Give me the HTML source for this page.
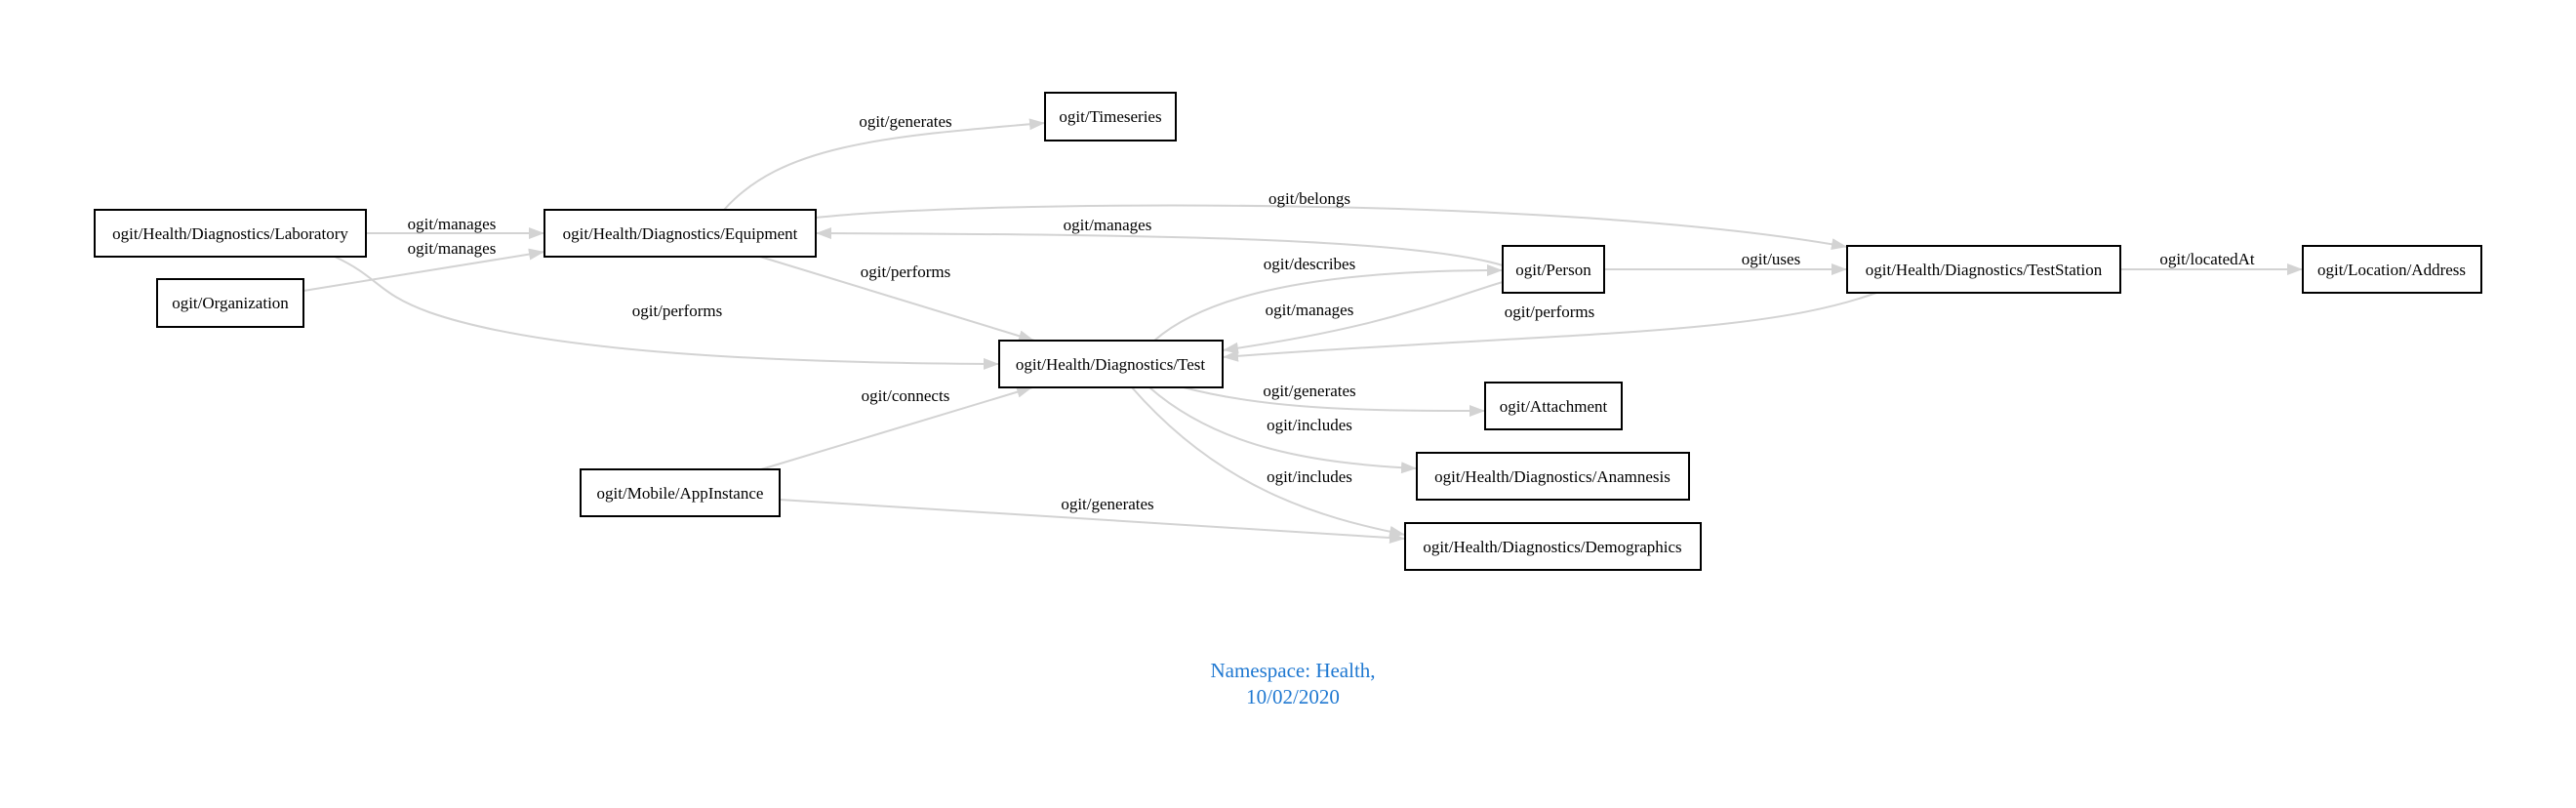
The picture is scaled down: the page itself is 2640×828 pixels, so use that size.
<!DOCTYPE html>
<html><head><meta charset="utf-8"><style>
html,body{margin:0;padding:0;background:#fff;}
svg{display:block;}
text{font-family:"Liberation Serif",serif;font-size:17px;fill:#000;}
.e{fill:none;stroke:#d3d3d3;stroke-width:2;}
.n{fill:#fff;stroke:#000;stroke-width:2;}
</style></head><body>
<svg width="2640" height="828" viewBox="0 0 2640 828" xmlns="http://www.w3.org/2000/svg">
<defs>
<marker id="a" viewBox="0 0 16 12" refX="16" refY="6" markerWidth="16" markerHeight="12" markerUnits="userSpaceOnUse" orient="auto">
<path d="M0,0 L16,6 L0,12 z" fill="#d3d3d3"/></marker>
</defs>
<path class="e" marker-end="url(#a)" d="M375,239 L558,239"/>
<path class="e" marker-end="url(#a)" d="M311,298 L558,258"/>
<path class="e" marker-end="url(#a)" d="M343,263 C390,285 385,300 440,320 C560,362 800,372 1024,373"/>
<path class="e" marker-end="url(#a)" d="M742,215 C800,150 900,140 1071,126"/>
<path class="e" marker-end="url(#a)" d="M779,263 L1060,349"/>
<path class="e" marker-end="url(#a)" d="M836,223 C1000,205 1600,200 1893,253"/>
<path class="e" marker-end="url(#a)" d="M1540,272 C1450,245 1200,240 836,239"/>
<path class="e" marker-end="url(#a)" d="M1183,349 C1250,290 1400,277 1540,277"/>
<path class="e" marker-end="url(#a)" d="M1540,289 C1470,310 1420,335 1253,359"/>
<path class="e" marker-end="url(#a)" d="M1923,300 C1800,345 1600,340 1253,366"/>
<path class="e" marker-end="url(#a)" d="M1644,276 L1893,276"/>
<path class="e" marker-end="url(#a)" d="M2173,276 L2360,276"/>
<path class="e" marker-end="url(#a)" d="M780,481 L1058,397"/>
<path class="e" marker-end="url(#a)" d="M799,512 L1440,552"/>
<path class="e" marker-end="url(#a)" d="M1213,397 C1300,420 1400,421 1522,421"/>
<path class="e" marker-end="url(#a)" d="M1178,397 C1250,460 1350,475 1452,480"/>
<path class="e" marker-end="url(#a)" d="M1160,397 C1250,500 1350,530 1440,548"/>
<g text-anchor="middle">
<text x="463" y="235">ogit/manages</text>
<text x="463" y="260">ogit/manages</text>
<text x="694" y="324">ogit/performs</text>
<text x="928" y="130">ogit/generates</text>
<text x="928" y="284">ogit/performs</text>
<text x="1342" y="209">ogit/belongs</text>
<text x="1135" y="236">ogit/manages</text>
<text x="1342" y="276">ogit/describes</text>
<text x="1342" y="323">ogit/manages</text>
<text x="1588" y="325">ogit/performs</text>
<text x="1815" y="271">ogit/uses</text>
<text x="2262" y="271">ogit/locatedAt</text>
<text x="928" y="411">ogit/connects</text>
<text x="1135" y="522">ogit/generates</text>
<text x="1342" y="406">ogit/generates</text>
<text x="1342" y="441">ogit/includes</text>
<text x="1342" y="494">ogit/includes</text>
</g>
<g>
<rect class="n" x="97" y="215" width="278" height="48"/>
<rect class="n" x="558" y="215" width="278" height="48"/>
<rect class="n" x="1071" y="95" width="134" height="49"/>
<rect class="n" x="161" y="286" width="150" height="49"/>
<rect class="n" x="1024" y="349" width="229" height="48"/>
<rect class="n" x="595" y="481" width="204" height="48"/>
<rect class="n" x="1540" y="252" width="104" height="48"/>
<rect class="n" x="1893" y="252" width="280" height="48"/>
<rect class="n" x="2360" y="252" width="183" height="48"/>
<rect class="n" x="1522" y="392" width="140" height="48"/>
<rect class="n" x="1452" y="464" width="279" height="48"/>
<rect class="n" x="1440" y="536" width="303" height="48"/>
</g>
<g text-anchor="middle">
<text x="236" y="245">ogit/Health/Diagnostics/Laboratory</text>
<text x="697" y="245">ogit/Health/Diagnostics/Equipment</text>
<text x="1138" y="125">ogit/Timeseries</text>
<text x="236" y="316">ogit/Organization</text>
<text x="1138" y="379">ogit/Health/Diagnostics/Test</text>
<text x="697" y="511">ogit/Mobile/AppInstance</text>
<text x="1592" y="282">ogit/Person</text>
<text x="2033" y="282">ogit/Health/Diagnostics/TestStation</text>
<text x="2451" y="282">ogit/Location/Address</text>
<text x="1592" y="422">ogit/Attachment</text>
<text x="1591" y="494">ogit/Health/Diagnostics/Anamnesis</text>
<text x="1591" y="566">ogit/Health/Diagnostics/Demographics</text>
</g>
<g text-anchor="middle">
<text x="1325" y="694" style="fill:#1f78d1;font-size:21px">Namespace: Health,</text>
<text x="1325" y="721" style="fill:#1f78d1;font-size:21px">10/02/2020</text>
</g>
</svg>
</body></html>
